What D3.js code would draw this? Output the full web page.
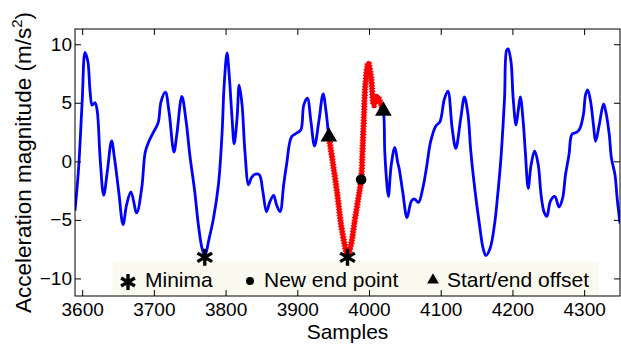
<!DOCTYPE html>
<html><head><meta charset="utf-8">
<script src="https://cdn.jsdelivr.net/npm/d3@7"></script>
<style>
body{margin:0;background:#fff}
svg{display:block}
text{font-family:"Liberation Sans",Arial,Helvetica,sans-serif;fill:#000}
</style>
</head><body>
<svg id="chart" width="621" height="344"></svg>
<script>
// ---- data ----
const samples = [3590,3595,3600,3604,3608,3611,3614,3618,3621,3625,3630,3635,3641,3645,3651,3657,3662,3668,3676,3683,3688,3693,3700,3706,3710,3716,3721,3728,3732,3739,3745,3750,3757,3762,3767,3771,3777,3783,3790,3795,3798,3802,3805,3809,3812,3816,3819,3823,3827,3832,3836,3841,3847,3852,3857,3862,3867,3871,3876,3881,3885,3892,3899,3905,3909,3914,3919,3924,3930,3936,3940,3944,3950,3956,3961,3966,3970,3975,3980,3985,3989,3991,3993,3995,3999,4003,4007,4012,4017,4020,4022,4025,4027,4031,4036,4040,4042,4047,4053,4059,4063,4069,4075,4080,4086,4093,4099,4105,4110,4116,4121,4128,4133,4138,4142,4148,4154,4159,4163,4169,4175,4179,4184,4189,4192,4194,4198,4201,4205,4208,4211,4215,4218,4222,4226,4231,4236,4240,4244,4248,4253,4259,4265,4270,4274,4279,4283,4290,4294,4299,4302,4305,4309,4313,4316,4321,4327,4330,4335,4338,4343,4346,4350];
const accel = [-4.2,-0.6,5.1,9.3,8.5,6.0,4.8,5.0,4.3,0.3,-2.9,-0.9,1.75,0.3,-2.6,-5.4,-3.7,-2.6,-4.4,-2.3,0.8,1.7,2.55,3.3,5.1,5.9,4.3,0.8,2.3,5.55,3.4,0.6,-2.6,-5.4,-7.4,-8.1,-6.6,-4.9,-2.0,2.3,6.5,9.25,7.4,3.7,1.5,3.7,6.5,4.8,0.8,-2.0,-1.4,-1.1,-1.15,-2.6,-4.3,-3.4,-2.9,-3.7,-4.3,-2.0,-0.3,2.1,2.4,2.7,4.8,5.4,3.4,1.3,3.4,5.75,4.3,2.1,-0.3,-2.9,-5.4,-7.1,-8.1,-7.1,-5.1,-3.2,-1.55,1.0,4.0,6.6,8.4,7.1,4.8,5.5,4.8,4.3,0.8,-2.0,-3.0,-0.3,1.2,-0.1,-0.6,-2.6,-4.8,-3.4,-3.2,-3.5,-2.3,-0.6,1.7,3.0,3.4,5.3,6.0,2.8,1.1,3.7,5.5,4.0,0.8,-2.6,-5.4,-7.4,-8.05,-7.4,-5.4,-3.15,0.3,5.4,9.5,9.6,8.5,5.4,3.1,4.3,5.5,3.4,0.8,-2.3,-0.3,0.9,-0.3,-2.9,-4.3,-4.7,-3.4,-3.0,-3.9,-3.15,-1.15,0.6,2.3,2.5,2.8,4.0,5.7,6.1,5.1,3.1,1.7,3.1,4.9,4.3,2.3,0.3,-1.15,-3.15,-5.3];
const segmentStart = 3944;   // start offset (red segment begins)
const segmentEnd = 4020;     // end offset (red segment ends)
const minimaX = [3771, 3970];
const minimaY = [-8.2, -8.2];
const endPointX = [3989];
const endPointY = [-1.55];
const offsetX = [3944, 4020];
const offsetY = [2.1, 4.3];
const xTicks = [3600,3700,3800,3900,4000,4100,4200,4300];
const yTicks = [-10,-5,0,5,10];
const legendLabels = ["Minima","New end point","Start/end offset"];

// ---- layout ----
const L = 75, R = 620, T = 29, B = 296;
const svg = d3.select("#chart");
const x = d3.scaleLinear().domain([3590, 4350]).range([L, R]);
const y = d3.scaleLinear().domain([-11.5, 11.3]).range([B, T]);

const signal = samples.map((s, i) => ({s, v: accel[i]}));
const segment = signal.filter(d => d.s >= segmentStart && d.s <= segmentEnd);

svg.append("defs").append("clipPath").attr("id","clip")
  .append("rect").attr("x",L).attr("y",T).attr("width",R-L).attr("height",B-T);

const line = d3.line().x(d => x(d.s)).y(d => y(d.v)).curve(d3.curveCatmullRom.alpha(0.5));

// legend background
const lg = {x0: 112.5, x1: 599, y0: 262, y1: 296};
svg.append("rect").attr("x", lg.x0).attr("y", lg.y0)
  .attr("width", lg.x1 - lg.x0).attr("height", lg.y1 - lg.y0)
  .attr("fill", "#fafaf1");

const plot = svg.append("g").attr("clip-path","url(#clip)");
plot.append("path").datum(signal).attr("d", line)
  .attr("fill","none").attr("stroke","#0000ff").attr("stroke-width",2.8)
  .attr("stroke-linejoin","round");
plot.append("path").datum(segment).attr("d", line)
  .attr("fill","none").attr("stroke","#ff0000").attr("stroke-width",4.6)
  .attr("stroke-linejoin","round");
plot.append("path").datum(segment).attr("d", line)
  .attr("fill","none").attr("stroke","#ff0000").attr("stroke-width",6.4)
  .attr("stroke-dasharray","1.2 1.6");

// star marker path
function starPath(r){
  let p = "";
  for (let k = 0; k < 3; k++){
    const a = Math.PI/2 + k*Math.PI/3;
    const dx = r*Math.cos(a), dy = r*Math.sin(a);
    p += `M${-dx},${-dy}L${dx},${dy}`;
  }
  return p;
}
const marks = svg.append("g");
marks.selectAll(".star").data(minimaX.map((s,i)=>({s, v:minimaY[i]}))).join("path")
  .attr("d", starPath(8.5)).attr("transform", d => `translate(${x(d.s)},${y(d.v)})`)
  .attr("stroke","#000").attr("stroke-width",3.4).attr("fill","none");
marks.selectAll(".dot").data(endPointX.map((s,i)=>({s, v:endPointY[i]}))).join("circle")
  .attr("cx", d => x(d.s)).attr("cy", d => y(d.v)).attr("r", 5.3).attr("fill","#000");
const tri = d3.symbol().type(d3.symbolTriangle).size(120);
marks.selectAll(".tri").data(offsetX.map((s,i)=>({s, v:offsetY[i]}))).join("path")
  .attr("d", tri).attr("transform", d => `translate(${x(d.s)},${y(d.v)})`).attr("fill","#000");

// legend content
const lgy = 281;
svg.append("path").attr("d", starPath(8)).attr("transform", `translate(128,${lgy+1})`)
  .attr("stroke","#000").attr("stroke-width",3.4).attr("fill","none");
svg.append("circle").attr("cx",250).attr("cy",lgy).attr("r",4).attr("fill","#000");
svg.append("path").attr("d", d3.symbol().type(d3.symbolTriangle).size(60)()).attr("transform",`translate(433,${lgy-1})`).attr("fill","#000");
const lgText = [145, 264, 447];
svg.selectAll(".lgt").data(legendLabels).join("text")
  .attr("x",(d,i)=>lgText[i]).attr("y",286.5).attr("font-size",21).text(d=>d);

// axes (inward ticks on all sides)
const axB = d3.axisBottom(x).tickValues(xTicks).tickFormat(d3.format("d")).tickSize(-6).tickPadding(7);
const axT = d3.axisTop(x).tickValues(xTicks).tickFormat("").tickSize(-6);
const axL = d3.axisLeft(y).tickValues(yTicks).tickSize(-6).tickPadding(3);
const axR = d3.axisRight(y).tickValues(yTicks).tickFormat("").tickSize(-6);
function style(g){ g.select(".domain").remove(); g.selectAll("line").attr("stroke","#000"); g.selectAll("text").attr("font-size",19).attr("fill","#000").attr("font-family",'"Liberation Sans",Arial,sans-serif'); }
svg.append("g").attr("transform",`translate(0,${B})`).call(axB).call(style);
svg.append("g").attr("transform",`translate(0,${T})`).call(axT).call(style);
svg.append("g").attr("transform",`translate(${L},0)`).call(axL).call(style);
svg.append("g").attr("transform",`translate(${R},0)`).call(axR).call(style);
svg.append("rect").attr("x",L).attr("y",T).attr("width",R-L).attr("height",B-T)
  .attr("fill","none").attr("stroke","#000").attr("stroke-width",1);

// axis labels
svg.append("text").attr("x",(L+R)/2).attr("y",339).attr("text-anchor","middle").attr("font-size",21).text("Samples");
const yl = svg.append("text").attr("transform",`translate(31,${(T+B)/2}) rotate(-90)`).attr("text-anchor","middle").attr("font-size",22.5);
yl.append("tspan").text("Acceleration magnitude (m/s");
yl.append("tspan").attr("font-size",15).attr("dy",-9).text("2");
yl.append("tspan").attr("dy",9).text(")");
</script>
</body></html>
